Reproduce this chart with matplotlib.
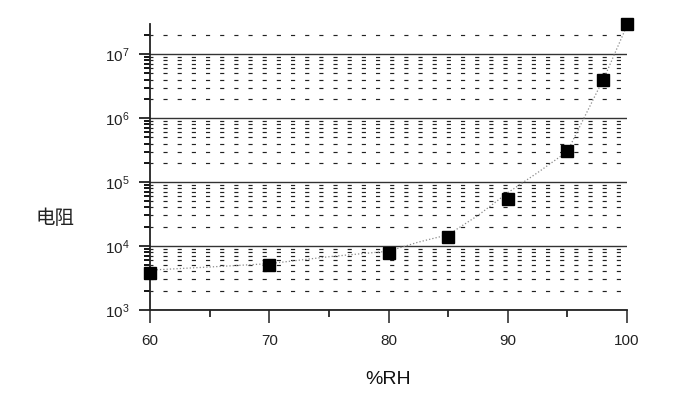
import matplotlib
matplotlib.use("Agg")
import matplotlib.pyplot as plt
from matplotlib.ticker import LogLocator, NullFormatter, MultipleLocator

# data
rh = [60, 70, 80, 85, 90, 95, 98, 100]
resistance = [3.8e3, 5.0e3, 7.8e3, 1.4e4, 5.5e4, 3.1e5, 4.0e6, 2.9e7]

# smooth trend curve
curve_x = [60, 65, 70, 75, 80, 82.5, 85, 87.5, 90, 92.5, 95, 97.5, 98, 99, 100]
curve_y = [4.2e3, 4.7e3, 5.3e3, 6.8e3, 8.3e3, 1.15e4, 1.5e4, 3.0e4, 6.8e4,
           1.4e5, 3.0e5, 2.6e6, 3.9e6, 1.05e7, 2.8e7]

xticks = [60, 70, 80, 90, 100]
ylabel = "电阻"
xlabel = "%RH"

plt.rcParams['font.family'] = ['Liberation Sans', 'Noto Sans CJK SC', 'DejaVu Sans']

fig = plt.figure(figsize=(6.96, 3.98), dpi=100)
ax = fig.add_axes([150/696, 1-310/398, (627-150)/696, (310-24)/398])

ax.set_yscale('log')
ax.set_xlim(60, 100)
ax.set_ylim(1e3, 2.95e7)

ax.plot(curve_x, curve_y, linestyle=':', color='#8a8a8a', linewidth=0.9, zorder=2)
ax.plot(rh, resistance, linestyle='none', marker='s', markersize=8.8,
        color='black', zorder=3, clip_on=False)

ax.set_xticks(xticks)
ax.xaxis.set_minor_locator(MultipleLocator(5))
ax.yaxis.set_major_locator(LogLocator(base=10, numticks=10))
ax.yaxis.set_minor_locator(LogLocator(base=10, subs=range(2, 10), numticks=20))
ax.yaxis.set_minor_formatter(NullFormatter())

ax.grid(True, which='major', axis='y', color='#333333', linewidth=1.0, linestyle='-')
ax.grid(True, which='minor', axis='y', color='#222222', linewidth=0.85,
        linestyle=(1, (3.5, 8.5)))
ax.set_axisbelow(True)

for s in ['top', 'right']:
    ax.spines[s].set_visible(False)
for s in ['left', 'bottom']:
    ax.spines[s].set_linewidth(1.3)
    ax.spines[s].set_color('#222222')

ax.tick_params(axis='x', which='major', direction='out', length=9, width=1.1,
               pad=8, labelsize=11, colors='#222222')
ax.tick_params(axis='x', which='minor', direction='out', length=5, width=1.1)
ax.tick_params(axis='y', which='major', direction='out', length=8, width=1.3,
               pad=7, labelsize=11, colors='#222222')
ax.tick_params(axis='y', which='minor', direction='out', length=4, width=1.3)

ax.set_xlabel(xlabel, fontsize=14, labelpad=17, color='#111111')
fig.text(55/696, 1-218/398, ylabel, fontsize=14, ha='center', va='center',
         color='#222222', family=['Noto Sans CJK SC', 'DejaVu Sans'])

fig.savefig('out.png', dpi=100)
